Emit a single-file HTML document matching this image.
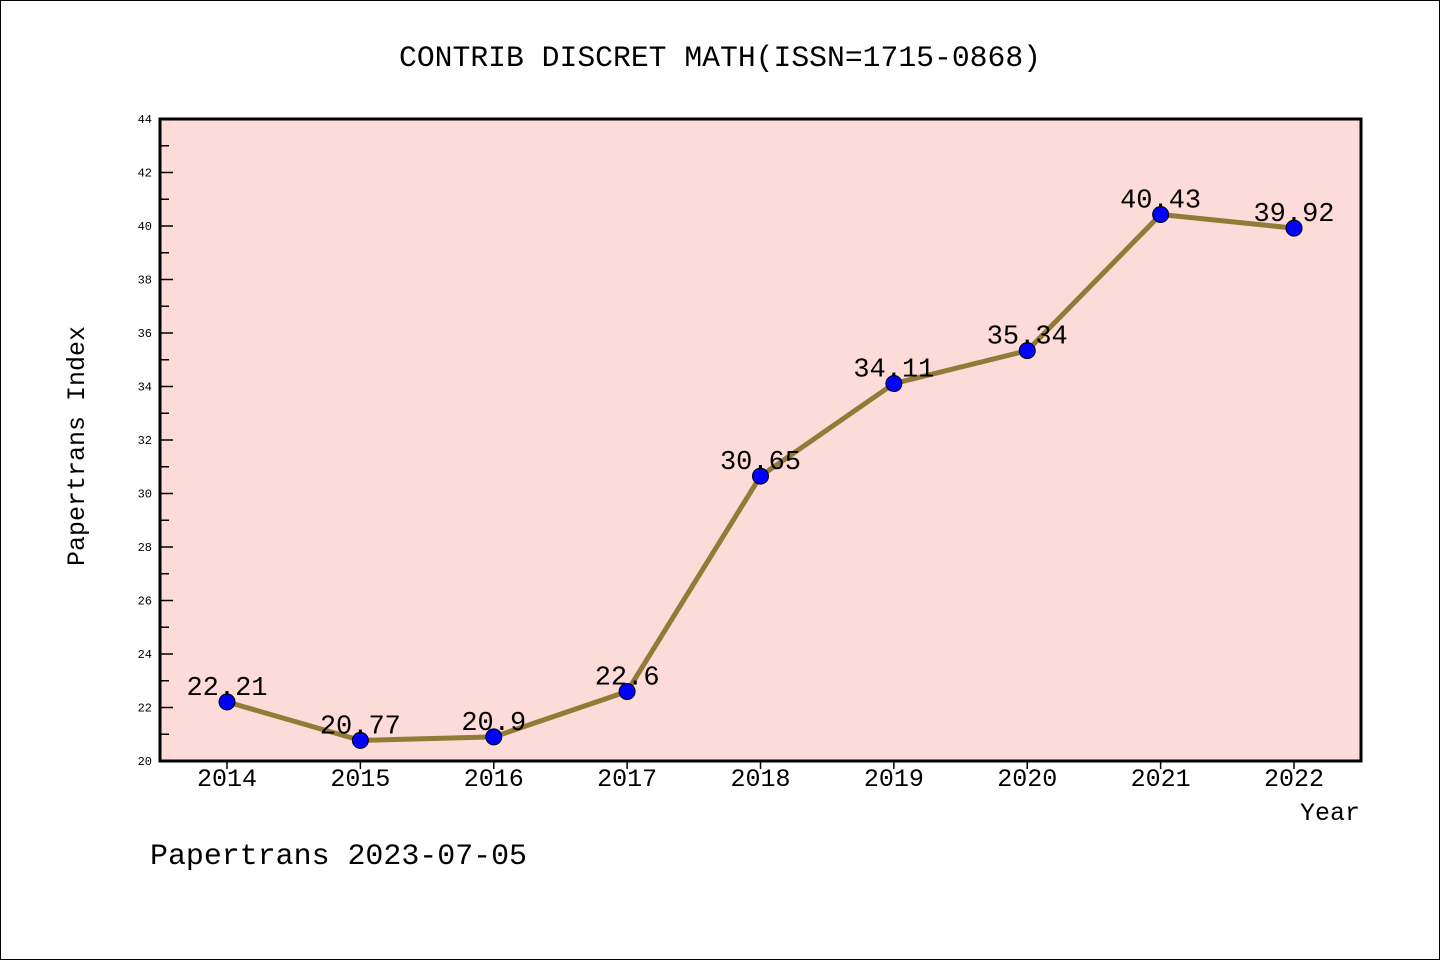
<!DOCTYPE html>
<html><head><meta charset="utf-8"><style>
html,body{margin:0;padding:0;background:#fff}
svg{display:block}
text{font-family:"Liberation Mono","DejaVu Sans Mono",monospace;fill:#000}
</style></head><body>
<svg id="chart" width="1440" height="960">
<rect x="0.5" y="0.5" width="1439" height="959" fill="#fff" stroke="#000"/>
<text x="720" y="66" font-size="30" text-anchor="middle" textLength="642" lengthAdjust="spacingAndGlyphs">CONTRIB DISCRET MATH(ISSN=1715-0868)</text>
<rect x="160" y="119" width="1201" height="642" fill="#fddbd8"/>
<g id="yticks"></g><g id="xticks"></g><g id="series"></g>
<rect x="160" y="119" width="1201" height="642" fill="none" stroke="#000" stroke-width="3"/>
<text x="84" y="446" font-size="25" text-anchor="middle" transform="rotate(-90 84 446)">Papertrans Index</text>
<text x="1360" y="820" font-size="25" text-anchor="end">Year</text>
<text x="150" y="864" font-size="30" textLength="377" lengthAdjust="spacingAndGlyphs">Papertrans 2023-07-05</text>
</svg>
<script>
const years=[2014,2015,2016,2017,2018,2019,2020,2021,2022];
const values=[22.21,20.77,20.9,22.6,30.65,34.11,35.34,40.43,39.92];
const labels=["22.21","20.77","20.9","22.6","30.65","34.11","35.34","40.43","39.92"];
const yTicks=[20,22,24,26,28,30,32,34,36,38,40,42,44];
const NS="http://www.w3.org/2000/svg";
const X=v=>227+(v-2014)*133.375;
const Y=v=>761-(v-20)*26.75;
function mk(t,a,p,txt){const e=document.createElementNS(NS,t);for(const k in a)e.setAttribute(k,a[k]);if(txt!=null)e.textContent=txt;p.appendChild(e);return e;}
const yg=document.getElementById('yticks'),xg=document.getElementById('xticks'),sg=document.getElementById('series');
yTicks.forEach(v=>{
  const l=mk('line',{x1:160,x2:173,y1:Y(v),y2:Y(v),stroke:'#000','stroke-width':1.5},yg);
  
  
  const t=mk('text',{x:152,y:Y(v)+4,'font-size':12,'text-anchor':'end'},yg,String(v));
  
  
  if(v<44){const m=mk('line',{x1:160,x2:169,y1:Y(v+1),y2:Y(v+1),stroke:'#000','stroke-width':1.5},yg);
  
  }
});
years.forEach(y=>{
  const l=mk('line',{x1:X(y),x2:X(y),y1:761,y2:769,stroke:'#000','stroke-width':1.5},xg);
  
  
  const t=mk('text',{x:X(y),y:786,'font-size':25,'text-anchor':'middle'},xg,String(y));
  
  
});
const pl=mk('polyline',{points:years.map((y,i)=>X(y)+','+Y(values[i])).join(' '),fill:'none',stroke:'#917b37','stroke-width':5,'stroke-linejoin':'round'},sg);


years.forEach((y,i)=>{
  const c=mk('circle',{cx:X(y),cy:Y(values[i]),r:8,fill:'#0000ff',stroke:'#000','stroke-width':1},sg);
  
  
});
years.forEach((y,i)=>{
  const t=mk('text',{x:X(y),y:Y(values[i])-7,'font-size':27,'text-anchor':'middle'},sg,labels[i]);
  
  
});
</script>
</body></html>
